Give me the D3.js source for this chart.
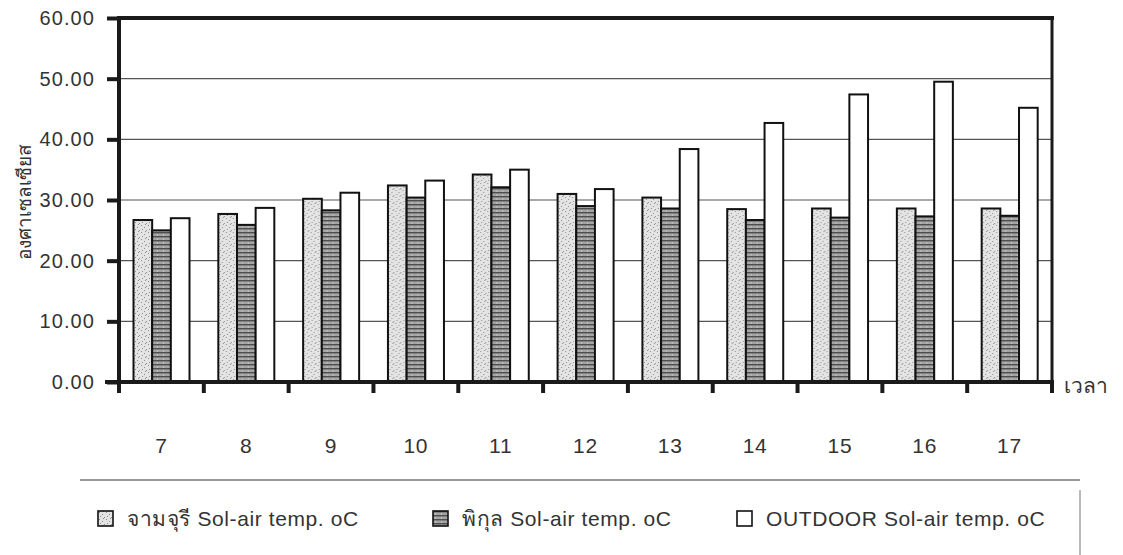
<!DOCTYPE html>
<html>
<head>
<meta charset="utf-8">
<script src="https://cdn.jsdelivr.net/npm/d3@7"></script>
<style>
  html, body { margin: 0; padding: 0; background: #fff; }
  svg text { font-family: "Liberation Sans", Arial, "Noto Sans", sans-serif; fill: #333; }
</style>
</head>
<body>
<svg id="chart" width="1123" height="555"></svg>
<script>
// Sol-air temperature by hour of day (°C)
const hours = ["7", "8", "9", "10", "11", "12", "13", "14", "15", "16", "17"];
const seriesNames = [
  "จามจุรี Sol-air temp. oC",
  "พิกุล Sol-air temp. oC",
  "OUTDOOR Sol-air temp. oC"
];
const chamchuri = [26.7, 27.7, 30.2, 32.4, 34.2, 31.0, 30.4, 28.5, 28.6, 28.6, 28.6];
const pikul     = [25.0, 25.9, 28.3, 30.4, 32.1, 29.0, 28.6, 26.7, 27.1, 27.3, 27.4];
const outdoor   = [27.0, 28.7, 31.2, 33.2, 35.0, 31.8, 38.4, 42.7, 47.4, 49.5, 45.2];
const yTicks = [0, 10, 20, 30, 40, 50, 60];
const yTitle = "องศาเซลเซียส";
const xTitle = "เวลา";

const seriesValues = [chamchuri, pikul, outdoor];

const svg = d3.select("#chart");
const plot = { left: 119, right: 1052, top: 18, bottom: 382 };

// fills: speckled light grey, striped dark grey, plain white
const defs = svg.append("defs");
const p1 = defs.append("pattern").attr("id", "fill0")
  .attr("patternUnits", "userSpaceOnUse").attr("width", 7).attr("height", 7);
p1.append("rect").attr("width", 7).attr("height", 7).attr("fill", "#e4e4e4");
[[1,1],[4,3],[2,5],[6,6],[5,0]].forEach(([x, y]) =>
  p1.append("rect").attr("x", x).attr("y", y).attr("width", 1).attr("height", 1).attr("fill", "#8f8f8f"));

const p2 = defs.append("pattern").attr("id", "fill1")
  .attr("patternUnits", "userSpaceOnUse").attr("width", 6).attr("height", 4);
p2.append("rect").attr("width", 6).attr("height", 4).attr("fill", "#a4a4a4");
p2.append("rect").attr("y", 0).attr("width", 6).attr("height", 1.4).attr("fill", "#4e4e4e");
p2.append("rect").attr("x", 2).attr("y", 2.5).attr("width", 1).attr("height", 1).attr("fill", "#dcdcdc");

const fills = ["url(#fill0)", "url(#fill1)", "#ffffff"];

const x0 = d3.scaleBand().domain(hours).range([plot.left, plot.right]).padding(0);
const x1 = d3.scaleBand().domain(d3.range(3)).range([14.5, 70.5]).padding(0);
const y = d3.scaleLinear().domain([0, 60]).range([plot.bottom, plot.top]);

// horizontal grid
svg.append("g").selectAll("line").data(yTicks.filter(t => t > 0 && t < 60)).join("line")
  .attr("x1", plot.left).attr("x2", plot.right)
  .attr("y1", d => y(d)).attr("y2", d => y(d))
  .attr("stroke", "#555").attr("stroke-width", 1.2);

// bars
const groups = svg.append("g").selectAll("g").data(hours).join("g")
  .attr("transform", d => `translate(${x0(d)},0)`);
groups.selectAll("rect").data((h, i) => seriesValues.map((s, k) => ({ k, v: s[i] }))).join("rect")
  .attr("x", d => x1(d.k))
  .attr("width", x1.bandwidth())
  .attr("y", d => y(d.v))
  .attr("height", d => y(0) - y(d.v))
  .attr("fill", d => fills[d.k])
  .attr("stroke", "#111").attr("stroke-width", 2);

// frame: thick axes, top and right border
const frame = svg.append("g").attr("stroke", "#1a1a1a").attr("stroke-linecap", "square");
frame.append("line").attr("x1", plot.left).attr("x2", plot.right).attr("y1", plot.top).attr("y2", plot.top).attr("stroke-width", 4);
frame.append("line").attr("x1", plot.right).attr("x2", plot.right).attr("y1", plot.top).attr("y2", plot.bottom).attr("stroke-width", 3);
frame.append("line").attr("x1", plot.left).attr("x2", plot.left).attr("y1", plot.top).attr("y2", plot.bottom).attr("stroke-width", 4);
frame.append("line").attr("x1", plot.left - 12).attr("x2", plot.right).attr("y1", plot.bottom).attr("y2", plot.bottom).attr("stroke-width", 4);

// y axis
const yAxis = d3.axisLeft(y).tickValues(yTicks).tickFormat(d3.format(".2f")).tickSize(12).tickPadding(12);
const gy = svg.append("g").attr("transform", `translate(${plot.left},0)`).call(yAxis);
gy.select(".domain").remove();
gy.selectAll(".tick line").attr("stroke", "#1a1a1a").attr("stroke-width", 4);
gy.selectAll(".tick text").attr("font-size", 20).attr("letter-spacing", 1.1).attr("fill", "#333");

// x axis: ticks at group boundaries, labels at group centres
const boundaries = hours.map(h => x0(h)).concat([plot.right]);
svg.append("g").selectAll("line").data(boundaries).join("line")
  .attr("x1", d => d).attr("x2", d => d)
  .attr("y1", plot.bottom).attr("y2", plot.bottom + 11)
  .attr("stroke", "#1a1a1a").attr("stroke-width", 4);
svg.append("g").selectAll("text").data(hours).join("text")
  .attr("x", d => x0(d) + x0.bandwidth() / 2)
  .attr("y", 453)
  .attr("text-anchor", "middle").attr("font-size", 21).attr("letter-spacing", 0.8)
  .text(d => d);

// axis titles
svg.append("text").attr("x", 1064).attr("y", 393).attr("font-size", 21).text(xTitle);
svg.append("text").attr("transform", "translate(31,202) rotate(-90)")
  .attr("text-anchor", "middle").attr("font-size", 19).text(yTitle);

// legend
svg.append("line").attr("x1", 80).attr("x2", 1080).attr("y1", 480).attr("y2", 480)
  .attr("stroke", "#777").attr("stroke-width", 1.5);
svg.append("line").attr("x1", 1080).attr("x2", 1080).attr("y1", 490).attr("y2", 555)
  .attr("stroke", "#bbb").attr("stroke-width", 2);
const legendX = [98, 433, 737];
const leg = svg.append("g").selectAll("g").data(seriesNames).join("g")
  .attr("transform", (d, i) => `translate(${legendX[i]},511)`);
leg.append("rect").attr("width", 15).attr("height", 15)
  .attr("fill", (d, i) => fills[i]).attr("stroke", "#111").attr("stroke-width", 1.6);
leg.append("text").attr("x", 29).attr("y", 15).attr("font-size", 21).attr("letter-spacing", 0.6).text(d => d);
</script>
</body>
</html>
